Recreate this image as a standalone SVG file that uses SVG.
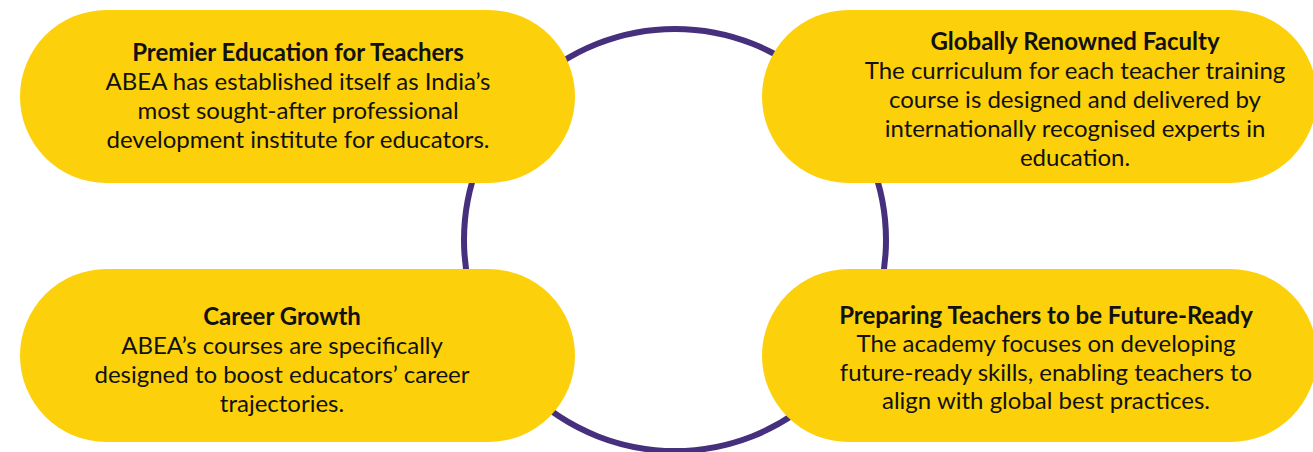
<svg xmlns="http://www.w3.org/2000/svg" width="1313" height="452" viewBox="0 0 1313 452">
<style>
.pill{fill:#FCD00A}
.ring{fill:none;stroke:#46307E;stroke-width:6}
text{font-family:Lato,"Liberation Sans",sans-serif;font-size:24px;fill:#111;text-anchor:middle}
.t{font-weight:700}
</style>
<rect width="1313" height="452" fill="#fff"/>
<g id="connectors">
<circle class="ring" cx="675" cy="240" r="211"/>
</g>
<g id="node-premier">
<rect class="pill" x="20" y="10" width="555" height="173" rx="86.5"/>
<text x="298" y="61" class="t">Premier Education for Teachers</text>
<text x="298" y="90">ABEA has established itself as India’s</text>
<text x="298" y="119">most sought-after professional</text>
<text x="298" y="148">development institute for educators.</text>
</g>
<g id="node-faculty">
<rect class="pill" x="762" y="10" width="555" height="173" rx="86.5"/>
<text x="1075" y="50" class="t">Globally Renowned Faculty</text>
<text x="1075" y="79">The curriculum for each teacher training</text>
<text x="1075" y="108">course is designed and delivered by</text>
<text x="1075" y="137">internationally recognised experts in</text>
<text x="1075" y="166">education.</text>
</g>
<g id="node-career">
<rect class="pill" x="20" y="269" width="555" height="173" rx="86.5"/>
<text x="282" y="325" class="t">Career Growth</text>
<text x="282" y="354">ABEA’s courses are specifically</text>
<text x="282" y="383">designed to boost educators’ career</text>
<text x="282" y="412">trajectories.</text>
</g>
<g id="node-future">
<rect class="pill" x="762" y="269" width="555" height="173" rx="86.5"/>
<text x="1046" y="324" class="t">Preparing Teachers to be Future-Ready</text>
<text x="1046" y="352">The academy focuses on developing</text>
<text x="1046" y="381">future-ready skills, enabling teachers to</text>
<text x="1046" y="409">align with global best practices.</text>
</g>
</svg>
